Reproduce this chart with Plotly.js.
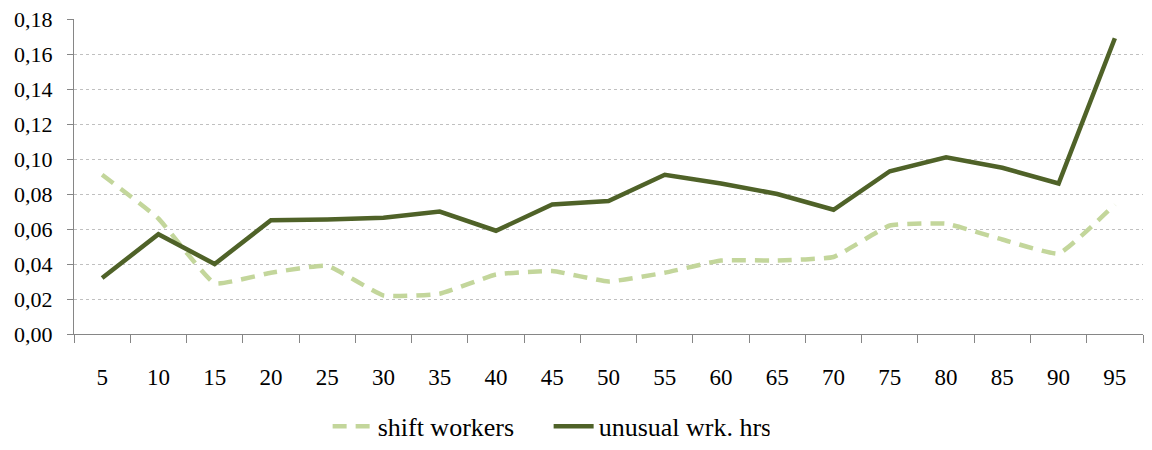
<!DOCTYPE html>
<html>
<head>
<meta charset="utf-8">
<script src="https://cdn.plot.ly/plotly-3.0.1.min.js"></script>
<style>html,body{margin:0;padding:0;background:#fff;}#chart{width:1152px;height:450px;}</style>
</head>
<body>
<div id="chart"></div>
<script>
const categories = ["5","10","15","20","25","30","35","40","45","50","55","60","65","70","75","80","85","90","95"];
const shiftWorkers = [0.091,0.066,0.029,0.035,0.039,0.022,0.023,0.034,0.036,0.030,0.035,0.042,0.042,0.044,0.062,0.063,0.054,0.046,0.074];
const unusualHours = [0.032,0.057,0.040,0.065,0.0655,0.0665,0.070,0.059,0.074,0.076,0.091,0.086,0.080,0.071,0.093,0.101,0.095,0.086,0.169];
const yTicks = [0,0.02,0.04,0.06,0.08,0.10,0.12,0.14,0.16,0.18];

const FONT = "Liberation Serif";
const traces = [
  {x: categories, y: shiftWorkers, name: "shift workers", type: "scatter", mode: "lines",
   line: {color: "#C3D69B", width: 4.5, dash: "14px,9px", shape: "spline", smoothing: 0.35}},
  {x: categories, y: unusualHours, name: "unusual wrk. hrs", type: "scatter", mode: "lines",
   line: {color: "#4F6228", width: 4.5}}
];
const layout = {
  width: 1152, height: 450,
  margin: {l: 74, r: 9, t: 19, b: 116, autoexpand: false},
  paper_bgcolor: "#fff", plot_bgcolor: "#fff",
  separators: ", ",
  font: {family: FONT, size: 22, color: "#000"},
  showlegend: true,
  legend: {orientation: "h", x: 0.444, xanchor: "center", y: -0.368, yanchor: "bottom",
           font: {family: FONT, size: 26}, entrywidth: 166, itemwidth: 40, tracegroupgap: 0},
  xaxis: {type: "category", range: [-0.5, 18.5], tickson: "boundaries", ticks: "outside",
          ticklen: 8, tickcolor: "#868686", showline: true, linecolor: "#868686", linewidth: 1,
          showgrid: false, zeroline: false, ticklabelstandoff: 22, automargin: false,
          tickfont: {family: FONT, size: 23, color: "#000"}},
  yaxis: {range: [0, 0.18], tickvals: yTicks, tickformat: ".2f", ticks: "outside", ticklen: 6,
          tickcolor: "#868686", showline: true, linecolor: "#868686", linewidth: 1,
          showgrid: true, gridcolor: "#c0c0c0", griddash: "dot", gridwidth: 1, zeroline: false,
          ticklabelstandoff: 10, automargin: false, tickfont: {family: FONT, size: 22, color: "#000"}}
};
Plotly.newPlot("chart", traces, layout, {displayModeBar: false, staticPlot: true});
</script>
</body>
</html>
